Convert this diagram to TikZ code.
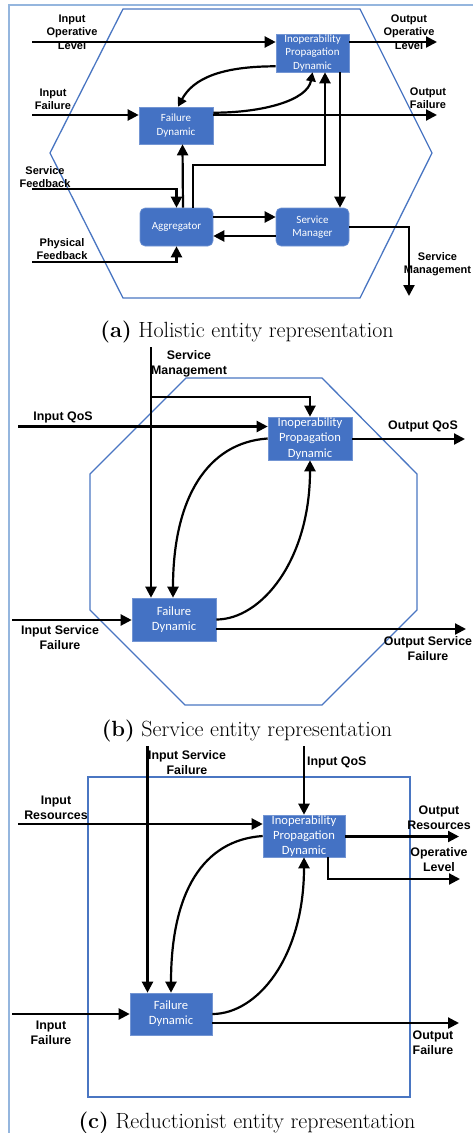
\documentclass[tikz,border=0pt]{standalone}
\usepackage{fontspec}
\usetikzlibrary{arrows.meta,calc}
\newfontfamily\lblfont{Liberation Sans}
\newfontfamily\boxfont{Carlito}
\definecolor{boxblue}{HTML}{4472C4}
\definecolor{edgeblue}{HTML}{4A76C2}
\definecolor{framebl}{HTML}{95B6DE}
\tikzset{
  dyn/.style={fill=boxblue, draw=boxblue!75!white, line width=0.6pt, text=white, inner sep=0pt, align=center},
  fa/.style={font=\boxfont\fontsize{11}{13.3}\selectfont},
  fb/.style={font=\boxfont\fontsize{12.6}{15.2}\selectfont},
  lbla/.style={font=\lblfont\bfseries\fontsize{11}{13.3}\selectfont, align=center, inner sep=0pt},
  lblb/.style={font=\lblfont\bfseries\fontsize{12.4}{15}\selectfont, align=center, inner sep=0pt},
  subcap/.style={font=\fontsize{22}{24}\selectfont, inner sep=0pt},
  flow/.style={line width=2.2pt, -{Triangle[length=11pt,width=11pt]}},
  flowsm/.style={line width=2.2pt, -{Triangle[length=9pt,width=9.5pt]}},
  shell/.style={edgeblue, line width=1.3pt}
}
\begin{document}
\begin{tikzpicture}[x=1pt, y=-1pt]
  \useasboundingbox (0,0) rectangle (473,1133);
  %% ── Outer frame ─────────────────────────────────────────────
  \draw[framebl, line width=1.2pt] (9,1140) -- (9,5) -- (480,5);

  %% ── (a) Holistic entity ─────────────────────────────────────
  \draw[shell] (123,9) -- (360,9) -- (432,153) -- (360,298) -- (123,298) -- (50,153) -- cycle;
  \node[dyn, fa, minimum width=73pt, minimum height=38pt] (IPDa) at (312.5,53) {Inoperability\\Propagation\\Dynamic};
  \node[dyn, fa, minimum width=74pt, minimum height=37pt] (FDa) at (176,125.5) {Failure\\Dynamic};
  \node[dyn, fa, rounded corners=5pt, minimum width=73pt, minimum height=38pt] (agg) at (176.5,227) {Aggregator};
  \node[dyn, fa, rounded corners=5pt, minimum width=73pt, minimum height=38pt] (sm) at (312.5,227) {Service\\Manager};
  \coordinate (inOL) at (32,42);
  \coordinate (outOL) at (437,42);
  \coordinate (inF) at (32,115);
  \coordinate (outF) at (437,115);
  \coordinate (sfb) at (32,189);
  \coordinate (pfb) at (32,262);
  \coordinate (smout) at (409,296);
  \draw[flow] (inOL) -- (inOL -| IPDa.west);
  \draw[flow] (outOL -| IPDa.east) -- (outOL);
  \draw[flow] (inF) -- (inF -| FDa.west);
  \draw[flow] (outF -| FDa.east) -- (outF);
  \draw[flowsm] ([yshift=6pt]IPDa.south west) .. controls +(-55,0) and +(15,-28) .. ([xshift=2pt]FDa.north);
  \draw[flowsm] ([yshift=-6pt]FDa.north east) .. controls +(50,0) and +(-5,28) .. (IPDa.south);
  \draw[flow] ([xshift=6.5pt]agg.north) -- ([xshift=6.5pt]FDa.south);
  \draw[flow] ([xshift=16.5pt]agg.north) -- ++(0,-43) -| ([xshift=12.5pt]IPDa.south);
  \draw[flow] ([xshift=27.5pt]IPDa.south) -- ([xshift=27.5pt]sm.north);
  \draw[flow] (sfb) -| (agg.north);
  \draw[flow] (pfb) -| (agg.south);
  \draw[flow] ([yshift=10pt]agg.east) -- ([yshift=10pt]sm.west);
  \draw[flow] ([yshift=-9pt]sm.west) -- ([yshift=-9pt]agg.east);
  \draw[flow] (sm.east) -| (smout);
  \foreach \nm/\px/\py/\txt in {
    inOL/72/32/{Input\\Operative\\Level},
    outOL/409/32/{Output\\Operative\\Level},
    inF/53/99/{Input\\Failure},
    outF/428/98/{Output\\Failure},
    sfb/45/177/{Service\\Feedback},
    pfb/62/249/{Physical\\Feedback},
    smout/437.5/264/{Service\\Management}}{
    \node[lbla] (la-\nm) at (\px,\py) {\txt};
  }
  \node[subcap] (capa) at (247,332) {\textbf{(a)} Holistic entity representation};

  %% ── (b) Service entity ──────────────────────────────────────
  \draw[shell] (186,378) -- (322,378) -- (417,474) -- (417,610) -- (322,705) -- (185,705) -- (90,610) -- (90,474) -- cycle;
  \node[dyn, fb, minimum width=84pt, minimum height=43pt] (IPDb) at (310,438.5) {Inoperability\\Propagation\\Dynamic};
  \node[dyn, fb, minimum width=84pt, minimum height=43pt] (FDb) at (174,619.5) {Failure\\Dynamic};
  \coordinate (smb) at (151,347);
  \coordinate (smbr) at (151,397);
  \coordinate (iqb) at (18,426.5);
  \coordinate (oqb) at (465,439);
  \coordinate (isf) at (12,620);
  \coordinate (osf) at (466,629);
  \draw[flow] (smb) -- (smb |- FDb.north);
  \draw[flow] (smbr) -| (IPDb.north);
  \draw[flow] (iqb) -- (iqb -| IPDb.west);
  \draw[flow] (oqb -| IPDb.east) -- (oqb);
  \draw[flow] (IPDb.west) .. controls +(-60,4) and +(0,-100) .. ([xshift=-1pt]FDb.north);
  \draw[flow] (FDb.east) .. controls +(45,0) and +(0,100) .. (IPDb.south);
  \draw[flow] (isf) -- (isf -| FDb.west);
  \draw[flow] (osf -| FDb.east) -- (osf);
  \foreach \nm/\px/\py/\txt in {
    smb/189/364/{Service\\Management},
    iqb/63/417/{Input QoS},
    oqb/423/426/{Output QoS},
    isf/60/638/{Input Service\\Failure},
    osf/428/649/{Output Service\\Failure}}{
    \node[lblb] (lb-\nm) at (\px,\py) {\txt};
  }
  \node[subcap] (capb) at (247,731) {\textbf{(b)} Service entity representation};

  %% ── (c) Reductionist entity ─────────────────────────────────
  \draw[shell] (88,777) rectangle (410,1097);
  \node[dyn, fb, minimum width=82pt, minimum height=42pt] (IPDc) at (304,836) {Inoperability\\Propagation\\Dynamic};
  \node[dyn, fb, minimum width=82pt, minimum height=42pt] (FDc) at (171,1014) {Failure\\Dynamic};
  \coordinate (isfc) at (147.5,746);
  \coordinate (iqc) at (304,746);
  \coordinate (irc) at (18,824);
  \coordinate (orc) at (459,836.5);
  \coordinate (olc) at (460,879);
  \coordinate (ifc) at (12,1014);
  \coordinate (ofc) at (459,1023);
  \draw[flow] (isfc) -- (isfc |- FDc.north);
  \draw[flow] (iqc) -- (IPDc.north);
  \draw[flow] (irc) -- (irc -| IPDc.west);
  \draw[flow] (orc -| IPDc.east) -- (orc);
  \draw[flow] ([xshift=24pt]IPDc.south) |- (olc);
  \draw[flow] (IPDc.west) .. controls +(-60,4) and +(0,-100) .. (FDc.north);
  \draw[flow] (FDc.east) .. controls +(45,0) and +(0,100) .. (IPDc.south);
  \draw[flow] (ifc) -- (FDc.west);
  \draw[flow] (ofc -| FDc.east) -- (ofc);
  \foreach \nm/\px/\py/\txt in {
    isfc/187/763/{Input Service\\Failure},
    irc/56/808/{Input\\Resources},
    orc/439/818/{Output\\Resources},
    olc/439/860/{Operative\\Level},
    ifc/51/1033/{Input\\Failure},
    ofc/433/1043/{Output\\Failure}}{
    \node[lblb] (lc-\nm) at (\px,\py) {\txt};
  }
  \node[lblb, anchor=west] (lc-iqc) at (307,762) {Input QoS};
  \node[subcap] (capc) at (247,1123) {\textbf{(c)} Reductionist entity representation};
\end{tikzpicture}
\end{document}
